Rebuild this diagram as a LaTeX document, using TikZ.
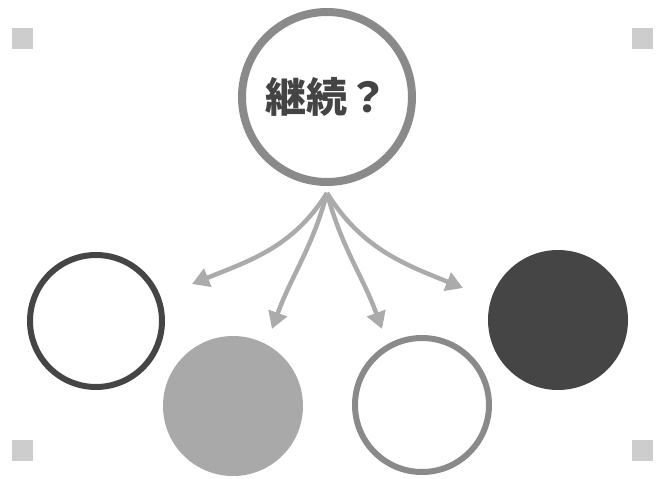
\documentclass[tikz,border=0pt]{standalone}
\usepackage{fontspec}
\newfontfamily\cjk{Noto Sans CJK JP}
\usetikzlibrary{arrows.meta}
\definecolor{ringgray}{HTML}{8A8A8A}
\definecolor{arrowgray}{HTML}{ABABAB}
\definecolor{darkfill}{HTML}{454545}
\definecolor{lightfill}{HTML}{A9A9A9}
\definecolor{squaregray}{HTML}{CDCDCD}
\definecolor{textgray}{HTML}{444444}
\begin{document}
\begin{tikzpicture}[x=1pt,y=-1pt,
  ring/.style={circle,inner sep=0pt,minimum size=#1},
  corner/.style={fill=squaregray,draw=none,minimum size=21pt,inner sep=0pt},
  flow/.style={draw=arrowgray,line width=4.5pt,-{Triangle[length=17pt,width=19pt]}}]
\useasboundingbox (0,0) rectangle (661,479);
\node[corner] (sq1) at (22,38) {};
\node[corner] (sq2) at (642,38) {};
\node[corner] (sq3) at (22,450) {};
\node[corner] (sq4) at (642,450) {};
\node[ring=170pt,draw=ringgray,line width=8pt,fill=white] (top) at (327,97)
  {\cjk\bfseries\fontsize{41pt}{43pt}\selectfont\color{textgray}継続？};
\node[ring=132pt,draw=darkfill,line width=6pt] (c1) at (96,321) {};
\node[ring=140pt,fill=lightfill] (c2) at (233,406) {};
\node[ring=134pt,draw=ringgray,line width=6pt] (c3) at (422,405) {};
\node[ring=140pt,fill=darkfill] (c4) at (558,320) {};
\coordinate (src) at (327,193);
\coordinate (e1) at (192,284);
\coordinate (e2) at (272,329);
\coordinate (e3) at (382,329);
\coordinate (e4) at (463,288);
\draw[flow] (src) to[out=238,in=22] (e1);
\draw[flow] (src) to[out=255,in=70] (e2);
\draw[flow] (src) to[out=285,in=110] (e3);
\draw[flow] (src) to[out=302,in=158] (e4);
\end{tikzpicture}
\end{document}
